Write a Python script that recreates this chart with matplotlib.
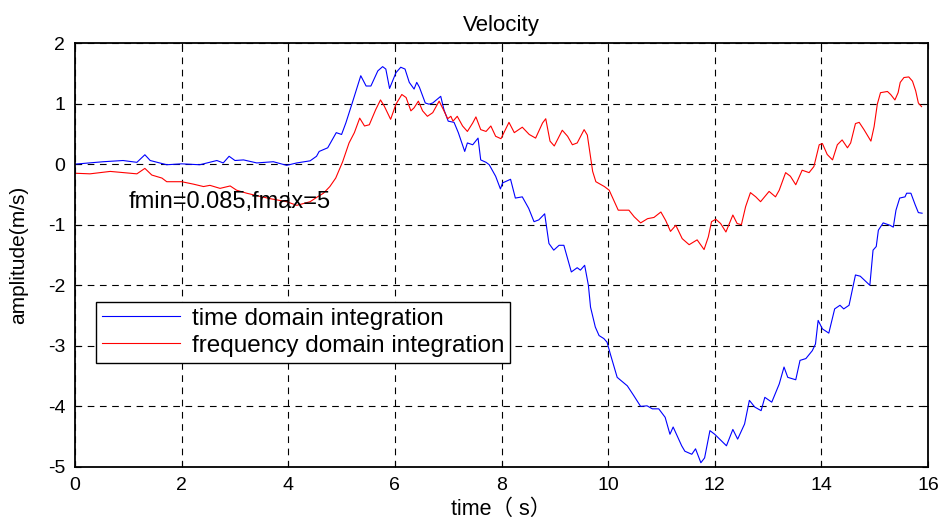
import matplotlib
matplotlib.use("Agg")
import matplotlib.pyplot as plt
import numpy as np

plt.rcParams['font.family'] = ['Liberation Sans', 'Noto Sans CJK SC', 'DejaVu Sans']
plt.rcParams['axes.unicode_minus'] = False

# time domain integration (blue)
t_time = [0, 0.53, 0.9, 1.16, 1.31, 1.41, 1.72, 2.0, 2.34, 2.66,
          2.78, 2.89, 3.0, 3.16, 3.41, 3.72, 3.97, 4.16, 4.41, 4.53,
          4.58, 4.74, 4.9, 5.0, 5.08, 5.2, 5.36, 5.46, 5.55, 5.68,
          5.77, 5.83, 5.9, 6.02, 6.11, 6.19, 6.27, 6.36, 6.41, 6.46,
          6.57, 6.64, 6.71, 6.86, 6.92, 7.0, 7.11, 7.19, 7.31, 7.36,
          7.46, 7.56, 7.61, 7.71, 7.77, 7.89, 7.98, 8.02, 8.17, 8.26,
          8.39, 8.51, 8.61, 8.7, 8.81, 8.89, 8.98, 9.08, 9.17, 9.31,
          9.42, 9.48, 9.56, 9.63, 9.67, 9.76, 9.83, 9.92, 9.98, 10.04,
          10.17, 10.36, 10.48, 10.61, 10.73, 10.83, 10.95, 11.07, 11.16, 11.22,
          11.38, 11.44, 11.57, 11.64, 11.74, 11.81, 11.91, 12.0, 12.22, 12.34,
          12.43, 12.56, 12.65, 12.75, 12.87, 12.94, 13.07, 13.21, 13.3, 13.37,
          13.52, 13.6, 13.71, 13.83, 13.89, 13.94, 14.02, 14.14, 14.25, 14.35,
          14.42, 14.52, 14.64, 14.73, 14.91, 14.97, 15.03, 15.07, 15.16, 15.29,
          15.35, 15.4, 15.47, 15.57, 15.6, 15.68, 15.76, 15.82, 15.89]
v_time = [0, 0.04, 0.06, 0.03, 0.155, 0.06, -0.01, 0.005, -0.01, 0.06,
          0.02, 0.13, 0.06, 0.07, 0.02, 0.04, -0.02, 0.02, 0.055, 0.13,
          0.21, 0.27, 0.52, 0.49, 0.68, 1.01, 1.46, 1.29, 1.29, 1.54,
          1.61, 1.57, 1.25, 1.51, 1.6, 1.57, 1.35, 1.24, 1.35, 1.27,
          1.01, 0.99, 1.01, 1.12, 0.9, 0.71, 0.69, 0.52, 0.21, 0.35,
          0.32, 0.43, 0.07, 0.03, -0.01, -0.2, -0.41, -0.31, -0.25, -0.56,
          -0.54, -0.73, -0.95, -0.92, -0.82, -1.31, -1.42, -1.34, -1.34, -1.78,
          -1.71, -1.75, -1.67, -2.0, -2.36, -2.69, -2.83, -2.88, -2.94, -3.13,
          -3.52, -3.66, -3.82, -4.0, -3.99, -4.04, -4.04, -4.18, -4.46, -4.34,
          -4.65, -4.74, -4.79, -4.70, -4.93, -4.85, -4.4, -4.46, -4.65, -4.38,
          -4.54, -4.29, -3.9, -4.01, -4.07, -3.85, -3.93, -3.63, -3.35, -3.52,
          -3.56, -3.24, -3.21, -3.08, -2.97, -2.58, -2.72, -2.79, -2.39, -2.33,
          -2.39, -2.33, -1.83, -1.85, -2.0, -1.42, -1.36, -1.09, -0.97, -1.01,
          -1.04, -0.76, -0.56, -0.54, -0.48, -0.48, -0.67, -0.8, -0.81]

# frequency domain integration (red)
t_freq = [0, 0.28, 0.66, 0.9, 1.16, 1.31, 1.44, 1.63, 1.72, 2.0,
          2.22, 2.41, 2.53, 2.72, 2.91, 3.03, 3.22, 3.41, 3.66, 3.97,
          4.16, 4.41, 4.53, 4.66, 4.78, 4.89, 5.02, 5.14, 5.24, 5.34,
          5.43, 5.52, 5.64, 5.73, 5.8, 5.92, 6.02, 6.13, 6.21, 6.3,
          6.36, 6.44, 6.52, 6.61, 6.71, 6.83, 6.91, 6.99, 7.05, 7.09,
          7.17, 7.27, 7.36, 7.46, 7.52, 7.61, 7.71, 7.8, 7.89, 7.99,
          8.14, 8.24, 8.39, 8.52, 8.64, 8.77, 8.83, 8.91, 8.99, 9.14,
          9.24, 9.33, 9.42, 9.55, 9.61, 9.71, 9.77, 9.93, 10.02, 10.19,
          10.39, 10.49, 10.61, 10.74, 10.86, 10.99, 11.08, 11.17, 11.27, 11.39,
          11.52, 11.67, 11.8, 11.88, 11.94, 12.02, 12.11, 12.21, 12.34, 12.42,
          12.5, 12.58, 12.67, 12.77, 12.86, 13.02, 13.14, 13.21, 13.33, 13.42,
          13.52, 13.64, 13.77, 13.86, 13.96, 14.02, 14.11, 14.21, 14.3, 14.39,
          14.49, 14.55, 14.64, 14.71, 14.8, 14.93, 14.99, 15.05, 15.11, 15.24,
          15.3, 15.38, 15.44, 15.48, 15.55, 15.64, 15.71, 15.77, 15.82, 15.88]
v_freq = [-0.15, -0.16, -0.12, -0.14, -0.16, -0.07, -0.18, -0.23, -0.29, -0.29,
          -0.33, -0.37, -0.35, -0.4, -0.36, -0.43, -0.48, -0.52, -0.57, -0.62,
          -0.68, -0.62, -0.55, -0.48, -0.37, -0.23, 0.04, 0.35, 0.52, 0.76,
          0.63, 0.65, 0.9, 1.06, 0.96, 0.74, 0.99, 1.15, 1.1, 0.88,
          0.93, 1.04, 0.88, 0.79, 0.85, 1.04, 0.9, 0.75, 0.79, 0.71,
          0.79, 0.63, 0.54, 0.68, 0.78, 0.57, 0.54, 0.63, 0.46, 0.42,
          0.69, 0.52, 0.61, 0.49, 0.43, 0.68, 0.75, 0.38, 0.3, 0.56,
          0.46, 0.32, 0.35, 0.57, 0.48, -0.12, -0.29, -0.37, -0.43, -0.76,
          -0.76, -0.87, -0.97, -0.9, -0.88, -0.79, -0.93, -1.11, -1.01, -1.23,
          -1.33, -1.25, -1.41, -1.2, -0.95, -0.91, -0.98, -1.12, -0.84, -0.98,
          -1.0, -0.7, -0.47, -0.54, -0.62, -0.45, -0.54, -0.43, -0.14, -0.2,
          -0.34, -0.1, -0.14, -0.04, 0.32, 0.34, 0.16, 0.07, 0.32, 0.4,
          0.27, 0.35, 0.67, 0.69, 0.57, 0.38, 0.62, 0.99, 1.18, 1.2,
          1.15, 1.06, 1.18, 1.35, 1.43, 1.44, 1.37, 1.21, 1.01, 0.95]

x_ticks = np.arange(0, 17, 2)
y_ticks = np.arange(-5, 3, 1)

fig = plt.figure(figsize=(9.44, 5.22), dpi=100)
ax = fig.add_axes([0.0795, 0.1054, 0.9035, 0.8122])

ax.plot(t_time, v_time, color='#0000FF', linewidth=0.8, label='time domain integration')
ax.plot(t_freq, v_freq, color='#FF0000', linewidth=0.8, label='frequency domain integration')

ax.set_xlim(0, 16)
ax.set_ylim(-5, 2)
ax.set_xticks(x_ticks)
ax.set_yticks(y_ticks)
ax.tick_params(direction='in', top=True, right=True, labelsize=14, length=4)
ax.tick_params(axis='x', pad=7)
ax.tick_params(axis='y', pad=7)
ax.grid(True, color='black', linestyle=(0, (6, 5)), linewidth=0.8)
for s in ax.spines.values():
    s.set_linewidth(1.3)

ax.set_title('Velocity', fontsize=16, pad=9)
ax.set_xlabel('time（ s）', fontsize=15.5)
ax.xaxis.set_label_coords(0.5, -0.076)
ax.xaxis.label.set_va('top')
ax.set_ylabel('amplitude(m/s)', fontsize=15)
ax.yaxis.set_label_coords(-0.055, 0.5)

ax.text(1.0, -0.62, 'fmin=0.085,fmax=5', fontsize=17, va='center', ha='left')

leg = ax.legend(loc='upper left', bbox_to_anchor=(0.39, -2.27), bbox_transform=ax.transData,
                fontsize=17.5, frameon=True, fancybox=False, edgecolor='black',
                handlelength=3.2, borderpad=0.25, labelspacing=0.2,
                handletextpad=0.5, borderaxespad=0, framealpha=1)
leg.get_frame().set_linewidth(1.0)

fig.savefig('out.png', dpi=100)
